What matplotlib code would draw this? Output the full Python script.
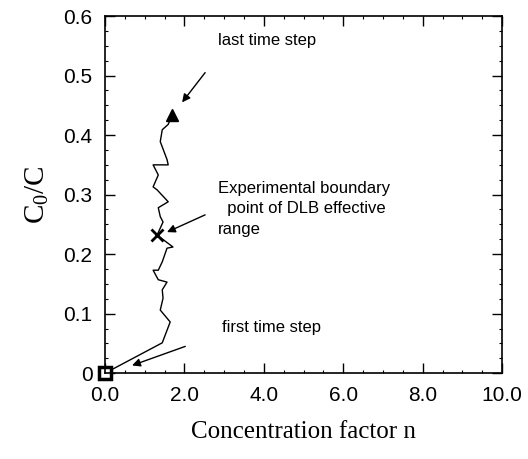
import matplotlib.pyplot as plt
from matplotlib.ticker import MultipleLocator, FormatStrFormatter

plt.rcParams['font.family'] = 'Liberation Sans'
plt.rcParams['mathtext.fontset'] = 'custom'
plt.rcParams['mathtext.rm'] = 'Liberation Serif'

# Concentration factor n vs C0/C
n_vals = [0.0, 1.44, 1.64, 1.39, 1.46, 1.44, 1.56, 1.34, 1.21, 1.34, 1.44, 1.56,
          1.71, 1.31, 1.46, 1.39, 1.34, 1.59, 1.31, 1.21, 1.34, 1.21, 1.59, 1.56,
          1.39, 1.44, 1.59, 1.69]
c_vals = [0.0, 0.051, 0.086, 0.106, 0.126, 0.140, 0.153, 0.157, 0.173, 0.173, 0.187, 0.210,
          0.212, 0.232, 0.254, 0.263, 0.278, 0.288, 0.308, 0.313, 0.333, 0.350, 0.350, 0.359,
          0.389, 0.409, 0.418, 0.434]
boundary_idx = 13

fig = plt.figure(figsize=(5.28, 4.59), dpi=100)
ax = fig.add_axes([0.199, 0.187, 0.752, 0.778])

ax.plot(n_vals, c_vals, color='k', lw=1)
ax.plot(n_vals[0], c_vals[0], marker='s', ms=8, mfc='white', mec='k', mew=2.5, clip_on=False)
ax.plot(n_vals[boundary_idx], c_vals[boundary_idx], marker='x', ms=9, color='k', mew=2)
ax.plot(n_vals[-1], c_vals[-1], marker='^', ms=9, color='k')

ax.set_xlim(0, 10)
ax.set_ylim(0, 0.6)
ax.xaxis.set_major_locator(MultipleLocator(2))
ax.xaxis.set_minor_locator(MultipleLocator(0.5))
ax.yaxis.set_minor_locator(MultipleLocator(0.025))
ax.xaxis.set_major_formatter(FormatStrFormatter('%.1f'))
ax.set_yticks([0, 0.1, 0.2, 0.3, 0.4, 0.5, 0.6])
ax.set_yticklabels(['0', '0.1', '0.2', '0.3', '0.4', '0.5', '0.6'])
ax.tick_params(which='major', direction='in', length=7, width=1, top=True, right=True,
               labelsize=15, pad=9)
ax.tick_params(which='minor', direction='in', length=2, width=0.8, top=True, right=True)
for s in ax.spines.values():
    s.set_linewidth(1.2)

ax.set_xlabel('Concentration factor n', family='Liberation Serif', fontsize=18, labelpad=12)
ax.set_ylabel(r'$\mathrm{C_0/C}$', fontsize=21, labelpad=9)

arrow = dict(arrowstyle='-|>', color='k', lw=1, mutation_scale=12, shrinkA=0, shrinkB=0)
ax.text(2.85, 0.559, 'last time step', fontsize=12, va='center')
ax.annotate('', xy=(1.94, 0.455), xytext=(2.52, 0.505), arrowprops=arrow)
ax.text(2.85, 0.276, 'Experimental boundary\n  point of DLB effective\nrange', fontsize=12,
        va='center', linespacing=1.45)
ax.annotate('', xy=(1.56, 0.237), xytext=(2.52, 0.266), arrowprops=arrow)
ax.text(2.95, 0.076, 'first time step', fontsize=12, va='center')
ax.annotate('', xy=(0.68, 0.013), xytext=(2.02, 0.045), arrowprops=arrow)

fig.savefig('out.png', dpi=100)
